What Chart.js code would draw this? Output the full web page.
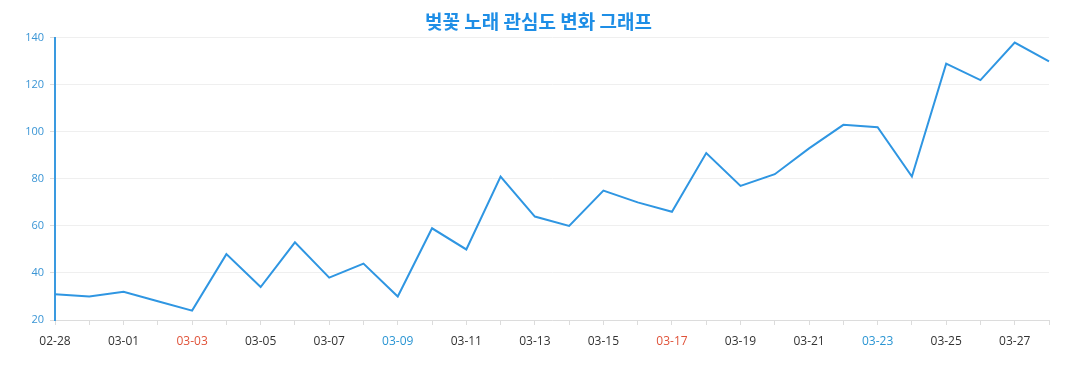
<!DOCTYPE html>
<html>
<head>
<meta charset="utf-8">
<script src="https://cdn.jsdelivr.net/npm/chart.js@4"></script>
<style>
  html, body { margin: 0; padding: 0; background: #fff; }
  #wrap { width: 1077px; height: 390px; }
</style>
</head>
<body>
<div id="wrap"><canvas id="chart" width="1077" height="390"></canvas></div>
<script>
const YEAR = 2024;
const dates = [
  '02-28', '02-29', '03-01', '03-02', '03-03', '03-04', '03-05', '03-06', '03-07', '03-08',
  '03-09', '03-10', '03-11', '03-12', '03-13', '03-14', '03-15', '03-16', '03-17', '03-18',
  '03-19', '03-20', '03-21', '03-22', '03-23', '03-24', '03-25', '03-26', '03-27', '03-28'
];
const interest = [
  31, 30, 32, 28, 24, 48, 34, 53, 38, 44,
  30, 59, 50, 81, 64, 60, 75, 70, 66, 91,
  77, 82, 93, 103, 102, 81, 129, 122, 138, 130
];
const yTicks = [20, 40, 60, 80, 100, 120, 140];

const LINE_COLOR = '#2f96e2';
const SAT_COLOR = '#2a95d3';
const SUN_COLOR = '#e0533a';

// weekend colouring of date labels
function labelColor(i) {
  const [m, d] = dates[i].split('-').map(Number);
  const day = new Date(YEAR, m - 1, d).getDay();
  if (day === 6) return SAT_COLOR;
  if (day === 0) return SUN_COLOR;
  return '#333';
}

const ctx = document.getElementById('chart').getContext('2d');
new Chart(ctx, {
  type: 'line',
  data: {
    labels: dates,
    datasets: [{
      data: interest,
      borderColor: LINE_COLOR,
      borderWidth: 2,
      pointRadius: 0,
      pointHoverRadius: 0,
      tension: 0,
      fill: false
    }]
  },
  options: {
    responsive: false,
    animation: false,
    layout: {
      padding: 0
    },
    scales: {
      x: {
        afterFit: (scale) => { scale.height = 70; },
        border: { color: '#dcdcdc', width: 1 },
        grid: {
          drawOnChartArea: false,
          drawTicks: true,
          tickLength: 5,
          tickColor: '#dcdcdc'
        },
        ticks: {
          autoSkip: false,
          maxRotation: 0,
          padding: 9,
          font: { family: 'Open Sans', size: 12 },
          color: (c) => labelColor(c.index),
          callback: (v, i) => (i % 2 === 0 ? dates[i] : '')
        }
      },
      y: {
        min: yTicks[0],
        max: yTicks[yTicks.length - 1],
        afterFit: (scale) => { scale.width = 55; },
        afterBuildTicks: (scale) => { scale.ticks = yTicks.map(v => ({ value: v })); },
        border: { color: '#3a9ae0', width: 2 },
        grid: {
          color: '#efefef',
          tickLength: 5,
          tickColor: '#dcdcdc'
        },
        ticks: {
          padding: 6,
          font: { family: 'Open Sans', size: 11 },
          color: '#3a95d5'
        }
      },
      // empty right-hand gutter so the title stays centred on the canvas
      gutter: {
        type: 'linear',
        position: 'right',
        afterFit: (scale) => { scale.width = 28; },
        border: { display: false },
        grid: { display: false },
        ticks: { display: false }
      }
    },
    plugins: {
      legend: { display: false },
      tooltip: { enabled: false },
      title: {
        display: true,
        text: '벚꽃 노래 관심도 변화 그래프',
        color: '#1e8ee6',
        font: { family: 'Noto Sans CJK KR', size: 19, weight: 'bold' },
        padding: { top: 10, bottom: 5 }
      }
    }
  }
});
</script>
</body>
</html>
